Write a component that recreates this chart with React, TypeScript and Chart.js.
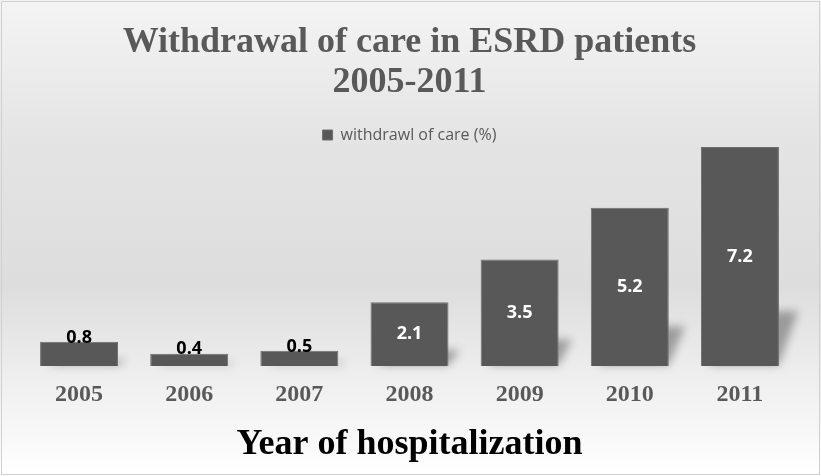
import React, { useEffect, useRef } from "react";
import { Chart, registerables } from "chart.js";

Chart.register(...registerables);

const categories = ["2005", "2006", "2007", "2008", "2009", "2010", "2011"];
const withdrawalValues = [0.8, 0.4, 0.5, 2.1, 3.5, 5.2, 7.2];
const seriesLabel = "withdrawl of care (%)";
const titleLines = ["Withdrawal of care in ESRD patients", "2005-2011"];
const xAxisTitle = "Year of hospitalization";

const SERIF = '"Liberation Serif", "Times New Roman", serif';
const SANS = '"Open Sans", "Noto Sans", sans-serif';
const GREY = "#595959";
const BAR = "#585858";

const backgroundPlugin = {
  id: "bgPlugin",
  beforeDraw(chart: any) {
    const { ctx, width, height } = chart;
    ctx.save();
    const g = ctx.createLinearGradient(0, 0, 0, height);
    g.addColorStop(0, "#f4f4f4");
    g.addColorStop(0.3, "#e4e4e4");
    g.addColorStop(0.6, "#dddddd");
    g.addColorStop(0.8, "#efefef");
    g.addColorStop(1, "#ffffff");
    ctx.fillStyle = g;
    ctx.fillRect(0, 0, width, height);
    ctx.strokeStyle = "#d0d0d0";
    ctx.lineWidth = 1;
    ctx.strokeRect(1.5, 1.5, width - 3, height - 3);
    ctx.restore();
  },
};

const shadowPlugin = {
  id: "shadowPlugin",
  beforeDatasetsDraw(chart: any) {
    const { ctx } = chart;
    const meta = chart.getDatasetMeta(0);
    ctx.save();
    ctx.filter = "blur(4px)";
    ctx.fillStyle = "rgba(0,0,0,0.32)";
    meta.data.forEach((bar: any) => {
      const { x, y, base, width } = bar.getProps(["x", "y", "base", "width"], true);
      const l = x - width / 2;
      const r = x + width / 2;
      const h = base - y;
      const hk = 0.25 * h;
      const s = 8 + 0.05 * h;
      ctx.beginPath();
      ctx.moveTo(l + 8, base - 1);
      ctx.lineTo(r, base - 1);
      ctx.lineTo(r + s, base - hk);
      ctx.lineTo(l + 8 + s, base - hk);
      ctx.closePath();
      ctx.fill();
    });
    ctx.restore();
  },
};

const labelPlugin = {
  id: "labelPlugin",
  afterDatasetsDraw(chart: any) {
    const { ctx } = chart;
    const meta = chart.getDatasetMeta(0);
    const data = chart.data.datasets[0].data as number[];
    ctx.save();
    ctx.font = `bold 18px ${SANS}`;
    ctx.textAlign = "center";
    ctx.textBaseline = "middle";
    meta.data.forEach((bar: any, i: number) => {
      const { x, y, base } = bar.getProps(["x", "y", "base"], true);
      const h = base - y;
      let ty: number;
      if (h < 40) {
        ctx.fillStyle = "#000000";
        ty = Math.min(y - 3.5, base - 17.5);
      } else {
        ctx.fillStyle = "#ffffff";
        ty = (y + base) / 2;
      }
      ctx.fillText(String(data[i]), x, ty);
    });
    ctx.restore();
  },
};

export default function App() {
  const ref = useRef<HTMLCanvasElement | null>(null);

  useEffect(() => {
    if (!ref.current) return;
    const chart = new Chart(ref.current, {
      type: "bar",
      data: {
        labels: categories,
        datasets: [
          {
            label: seriesLabel,
            data: withdrawalValues,
            backgroundColor: BAR,
            borderColor: "#6e6e6e",
            borderWidth: 1,
            barPercentage: 0.708,
            categoryPercentage: 1,
          },
        ],
      },
      options: {
        responsive: false,
        animation: false,
        layout: { padding: { left: 24, right: 26, top: 0, bottom: 6 } },
        plugins: {
          title: {
            display: true,
            text: titleLines,
            color: GREY,
            font: { family: SERIF, size: 36, weight: "bold", lineHeight: 40 / 36 },
            padding: { top: 23, bottom: 18 },
          },
          legend: {
            display: true,
            position: "top",
            maxHeight: 26,
            labels: {
              boxWidth: 10,
              boxHeight: 10,
              padding: 6,
              color: GREY,
              font: { family: SANS, size: 16 },
            },
          },
          tooltip: { enabled: false },
        },
        scales: {
          x: {
            grid: { display: false, drawTicks: false },
            border: { display: false },
            ticks: {
              color: GREY,
              font: { family: SERIF, size: 24, weight: "bold" },
              padding: 14,
            },
            title: {
              display: true,
              text: xAxisTitle,
              color: "#000000",
              font: { family: SERIF, size: 36, weight: "bold", lineHeight: 1.2 },
              padding: { top: 0, bottom: 4 },
            },
          },
          y: { display: false, min: 0, max: 7.2 },
        },
      },
      plugins: [backgroundPlugin, shadowPlugin, labelPlugin],
    } as any);
    return () => chart.destroy();
  }, []);

  return (
    <div style={{ position: "absolute", left: 0, top: 0, width: 821, height: 476 }}>
      <canvas ref={ref} width={821} height={476} />
    </div>
  );
}
